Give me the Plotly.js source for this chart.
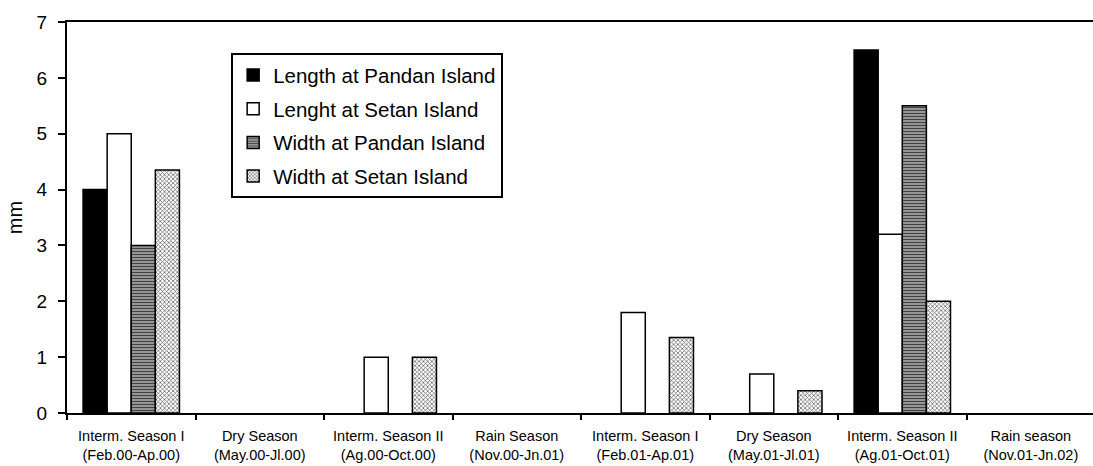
<!DOCTYPE html>
<html>
<head>
<meta charset="utf-8">
<script src="https://cdn.plot.ly/plotly-3.0.1.min.js"></script>
<style>html,body{margin:0;padding:0;background:#fff;}#chart{width:1093px;height:466px;}</style>
</head>
<body>
<div id="chart"></div>
<script>
const seasons = [
  "Interm. Season I<br>(Feb.00-Ap.00)",
  "Dry Season<br>(May.00-Jl.00)",
  "Interm. Season II<br>(Ag.00-Oct.00)",
  "Rain Season<br>(Nov.00-Jn.01)",
  "Interm. Season I<br>(Feb.01-Ap.01)",
  "Dry Season<br>(May.01-Jl.01)",
  "Interm. Season II<br>(Ag.01-Oct.01)",
  "Rain season<br>(Nov.01-Jn.02)"
];
const lengthPandan = [4, 0, 0, 0, 0, 0, 6.5, 0];
const lengthSetan  = [5, 0, 1, 0, 1.8, 0.7, 3.2, 0];
const widthPandan  = [3, 0, 0, 0, 0, 0, 5.5, 0];
const widthSetan   = [4.35, 0, 1, 0, 1.35, 0.4, 2, 0];
const seriesNames = ["Length at Pandan Island", "Lenght at Setan Island", "Width at Pandan Island", "Width at Setan Island"];

function outline(vals) {
  return {color: "#000", width: vals.map(v => v === 0 ? 0 : 1.5)};
}
const traces = [
  {type: "bar", x: seasons, y: lengthPandan, name: seriesNames[0], legendgroup: "a",
   marker: {color: "#000", line: outline(lengthPandan)}},
  {type: "bar", x: seasons, y: lengthSetan, name: seriesNames[1], legendgroup: "b",
   marker: {color: "#fff", line: outline(lengthSetan)}},
  {type: "bar", x: seasons, y: widthPandan, name: seriesNames[2], legendgroup: "c",
   marker: {color: "#9a9a9a", line: outline(widthPandan),
            pattern: {shape: "-", fgcolor: "#444", bgcolor: "#b0b0b0", size: 3, solidity: 0.5}}},
  {type: "bar", x: seasons, y: widthSetan, name: seriesNames[3], legendgroup: "d",
   marker: {color: "#ccc", line: outline(widthSetan),
            pattern: {shape: "x", fgcolor: "#555", bgcolor: "#fff", size: 3, solidity: 0.4}}}
];

const layout = {
  width: 1093, height: 466,
  margin: {l: 67, r: 0, t: 22, b: 53},
  paper_bgcolor: "#fff", plot_bgcolor: "#fff",
  font: {family: "Liberation Sans, Arial, sans-serif", color: "#000"},
  barmode: "group", bargap: 0.25, bargroupgap: 0,
  showlegend: true,
  legend: {
    x: 0.16, y: 0.92, xanchor: "left", yanchor: "top",
    bgcolor: "#fff", bordercolor: "#000", borderwidth: 2,
    font: {size: 20.5, color: "#000"},
    tracegroupgap: 4, traceorder: "grouped"
  },
  xaxis: {
    type: "category", range: [-0.5, 7.484],
    showline: true, linecolor: "#000", linewidth: 2, mirror: true,
    ticks: "outside", tickson: "boundaries", ticklen: 5, tickwidth: 2, tickcolor: "#000",
    tickfont: {size: 14.5, color: "#000"}, ticklabelstandoff: 9,
    showgrid: false, zeroline: false, fixedrange: true
  },
  yaxis: {
    range: [0, 7], dtick: 1,
    showline: true, linecolor: "#000", linewidth: 2, mirror: false,
    ticks: "outside", ticklen: 7, tickwidth: 2, tickcolor: "#000",
    tickfont: {size: 19, color: "#000"}, ticklabelstandoff: 7,
    showgrid: false, zeroline: false,
    title: {text: "mm", font: {size: 20, color: "#000"}, standoff: 9}
  }
};

Plotly.newPlot("chart", traces, layout, {staticPlot: true, displayModeBar: false});
</script>
</body>
</html>
